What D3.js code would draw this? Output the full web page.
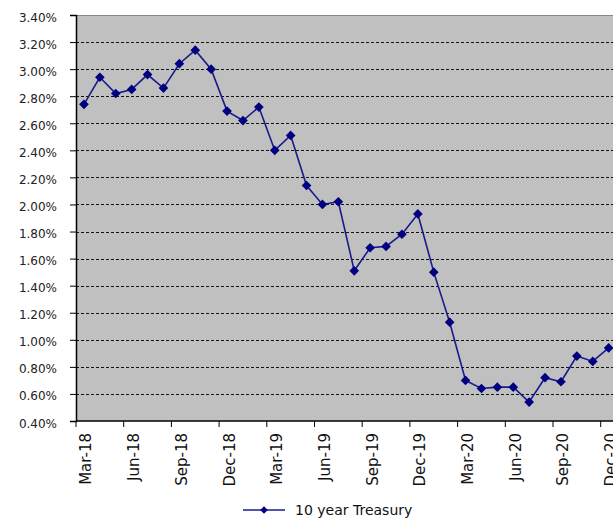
<!DOCTYPE html>
<html><head><meta charset="utf-8">
<script src="https://cdn.jsdelivr.net/npm/d3@7"></script>
<style>body{margin:0;background:#fff}svg{display:block}</style>
</head><body>
<svg id="c" width="613" height="523"></svg>
<script>
const months = ["Mar-18","Apr-18","May-18","Jun-18","Jul-18","Aug-18","Sep-18","Oct-18","Nov-18","Dec-18","Jan-19","Feb-19","Mar-19","Apr-19","May-19","Jun-19","Jul-19","Aug-19","Sep-19","Oct-19","Nov-19","Dec-19","Jan-20","Feb-20","Mar-20","Apr-20","May-20","Jun-20","Jul-20","Aug-20","Sep-20","Oct-20","Nov-20","Dec-20"];
const treasury = [2.74,2.94,2.82,2.85,2.96,2.86,3.04,3.14,3.00,2.69,2.62,2.72,2.40,2.51,2.14,2.00,2.02,1.51,1.68,1.69,1.78,1.93,1.50,1.13,0.70,0.64,0.65,0.65,0.54,0.72,0.69,0.88,0.84,0.94];
const yTicks = [0.4,0.6,0.8,1.0,1.2,1.4,1.6,1.8,2.0,2.2,2.4,2.6,2.8,3.0,3.2,3.4];
const seriesName = "10 year Treasury";

const svg = d3.select("#c");
const L = 76, T = 15, B = 421, R = 76 + 34*15.9;
const x = d3.scaleBand().domain(months).range([L, R]).padding(0);
const y = d3.scaleLinear().domain([0.4, 3.4]).range([B, T]);
const font = "'DejaVu Sans', Verdana, sans-serif";

svg.append("rect").attr("x", L).attr("y", T).attr("width", R - L).attr("height", B - T).attr("fill", "#c0c0c0");
svg.append("line").attr("x1", L).attr("x2", R).attr("y1", T + 0.5).attr("y2", T + 0.5).attr("stroke", "#888");

// gridlines
svg.append("g").selectAll("line").data(yTicks.filter(v => v > 0.4 && v < 3.4)).join("line")
  .attr("x1", L).attr("x2", R)
  .attr("y1", d => Math.round(y(d)) + 0.5).attr("y2", d => Math.round(y(d)) + 0.5)
  .attr("stroke", "#111").attr("stroke-width", 1.2).attr("stroke-dasharray", "3,2");

// y axis
const yAxis = d3.axisLeft(y).tickValues(yTicks).tickSize(6).tickPadding(13)
  .tickFormat(d => d.toFixed(2) + "%");
const gy = svg.append("g").attr("transform", `translate(${L},0)`).call(yAxis);
gy.select(".domain").attr("stroke", "#000").attr("stroke-width", 1.5);
gy.selectAll(".tick line").attr("stroke", "#000");
gy.selectAll("text").attr("font-family", font).attr("font-size", 12).attr("fill", "#222").attr("dy", "0.5em");

// x axis
const xTickVals = months.filter((m, i) => i % 3 === 0);
const gx = svg.append("g").attr("transform", `translate(0,${B})`);
gx.append("line").attr("x1", L).attr("x2", R).attr("stroke", "#000").attr("stroke-width", 1.5);
gx.selectAll("line.tk").data(xTickVals).join("line").attr("class", "tk")
  .attr("x1", d => x(d)).attr("x2", d => x(d)).attr("y1", 0).attr("y2", 6).attr("stroke", "#000");
gx.selectAll("text").data(xTickVals).join("text")
  .attr("transform", d => `translate(${x(d) + x.bandwidth()/2 + 7.5},12) rotate(-90)`)
  .attr("text-anchor", "end").attr("font-family", font).attr("font-size", 15).attr("fill", "#111")
  .text(d => d);

// line
const cx = d => x(d) + x.bandwidth()/2;
svg.append("path").datum(months.map((m, i) => [cx(m), y(treasury[i])]))
  .attr("d", d3.line()).attr("fill", "none").attr("stroke", "#1a1a8c").attr("stroke-width", 1.6);
const diamond = d3.symbol().type(d3.symbolDiamond2).size(60);
svg.append("g").selectAll("path").data(months).join("path")
  .attr("transform", (m, i) => `translate(${cx(m)},${y(treasury[i])})`)
  .attr("d", diamond).attr("fill", "#000080");

// legend
const lg = svg.append("g");
lg.append("line").attr("x1", 243).attr("x2", 285).attr("y1", 510).attr("y2", 510).attr("stroke", "#1a1a8c").attr("stroke-width", 1.6);
lg.append("path").attr("transform", "translate(264,510)").attr("d", d3.symbol().type(d3.symbolDiamond2).size(36)).attr("fill", "#000080");
lg.append("text").attr("x", 295).attr("y", 515).attr("font-family", font).attr("font-size", 14).attr("fill", "#111").text(seriesName);
</script>
</body></html>
